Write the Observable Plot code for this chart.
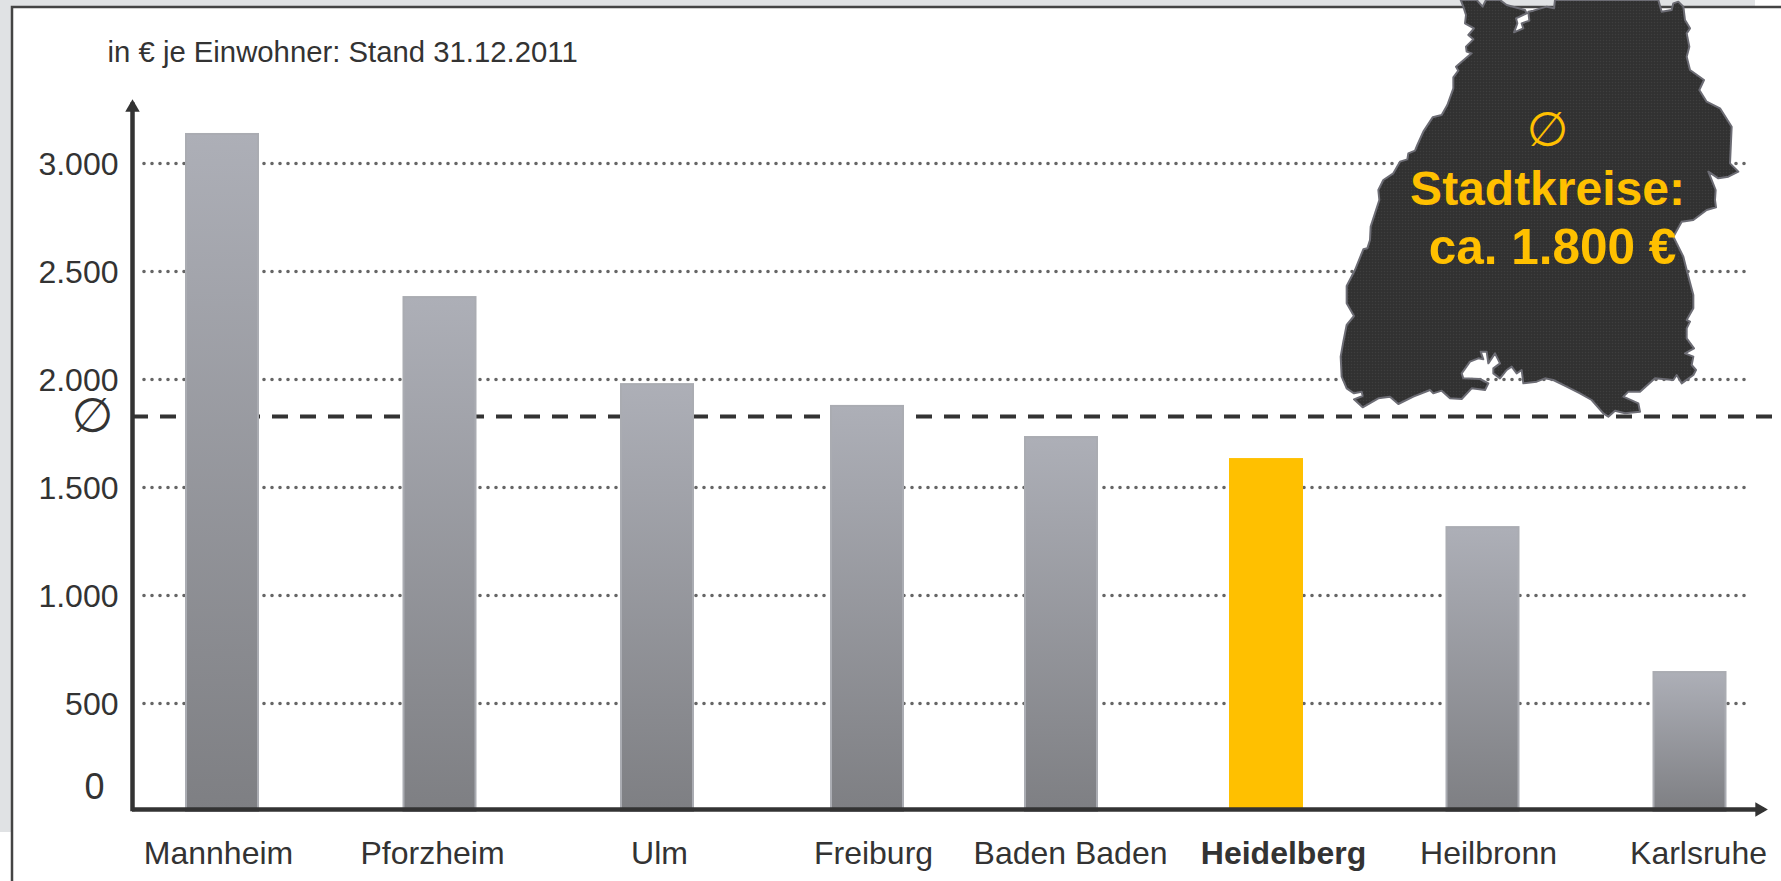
<!DOCTYPE html>
<html lang="de">
<head>
<meta charset="utf-8">
<title>in € je Einwohner</title>
<script src="https://cdn.jsdelivr.net/npm/d3@7"></script>
<script src="https://cdn.jsdelivr.net/npm/@observablehq/plot@0.6"></script>
<style>html,body{margin:0;padding:0;background:#fff;overflow:hidden}svg{display:block}</style>
</head>
<body>
<div id="chart"></div>
<script>
const cities = ["Mannheim","Pforzheim","Ulm","Freiburg","Baden Baden","Heidelberg","Heilbronn","Karlsruhe"];
const values = [3139,2384,1981,1880,1736,1634,1319,648];
const highlight = "Heidelberg";
const meanValue = 1829;
const yTicks = [500,1000,1500,2000,2500,3000];
const subtitle = "in € je Einwohner: Stand 31.12.2011";
const mapLines = ["Stadtkreise:","ca. 1.800 €"];

const barCentres = [222,439.5,657,867,1061,1266,1482.5,1689.5];
const labelCentres = [218,432,659,873,1070,1283,1488,1698];

// Outline of Baden-Württemberg, traced clockwise from the top left
const outlineA = [[392,0],[400,20],[408,45],[405,70],[432,85],[415,105],[430,118],[408,140],[410,155],[425,160],[395,185],[378,200],[385,212],[370,232],[370,265],[352,315],[335,345],[308,352],[280,395],[262,435],[255,452],[235,460],[232,478],[210,485],[190,520],[160,540],[145,570],[148,600]];
const outlineB = [[135,40],[122,80],[120,120],[112,145],[100,148],[75,210],[50,258],[50,310],[72,348],[50,375],[40,425],[32,470],[35,530],[50,565],[72,580],[95,575],[98,588],[72,598],[98,622],[145,595],[180,590],[205,612],[250,590],[300,570],[310,580],[335,572],[360,595],[395,597],[425,565],[465,570],[475,550],[450,537],[400,535],[395,520],[420,485],[445,475],[460,478],[452,455],[470,455],[475,490],[495,460],[510,490],[490,505],[490,520],[510,535],[530,510],[545,500],[560,520],[575,510],[580,550],[620,545]];
const outlineC = [[45,535],[70,540],[110,560],[150,580],[185,600],[220,640],[235,650],[255,632],[285,640],[330,635],[325,610],[280,590],[295,575],[330,575],[375,535],[430,540],[440,525],[455,550],[490,525],[498,510],[485,495],[490,470],[465,460],[492,445],[470,415],[470,385],[480,365],[470,360],[490,325],[490,285],[470,210],[460,170],[430,110],[455,65],[490,60],[530,30],[558,22],[555,0]];
const outlineD = [[557,570],[535,515],[565,535],[595,530],[625,515],[600,490],[605,380],[570,325],[530,305],[508,270],[522,240],[480,210],[470,170],[478,140],[470,100],[480,85],[465,60],[460,20],[445,5],[430,10],[425,30],[395,35],[385,0]];
const outlineE = [[825,0],[822,25],[800,20],[760,32],[745,35],[748,62],[725,70],[730,85],[702,97],[712,70],[708,55],[740,40],[735,30],[680,15],[660,0],[618,0],[608,20],[590,0],[545,0]];

const trace = (pts, ox, oy) => pts.map(([a, b]) => [ox + a / 3, oy + b / 3]);
const mapOutline = [
  ...trace(outlineA, 1330, 0),
  ...trace(outlineB, 1330, 200),
  ...trace(outlineC, 1530, 200),
  ...trace(outlineD, 1530, 0),
  ...trace(outlineE, 1280, 0)
];

const table = cities.map((city, i) => ({city, value: values[i], i}));
const labelSlot = (d) => d.i + 0.5;
const textColor = "#333333";

const backdrop = () => {
  const g = d3.create("svg:g");
  g.append("rect").attr("width", 1755).attr("height", 832).attr("fill", "#e0e2e4");
  g.append("rect").attr("x", 12).attr("y", 7).attr("width", 1769).attr("height", 874).attr("fill", "#fff");
  g.append("path").attr("d", "M12,881V7H1781").attr("fill", "none").attr("stroke", "#444").attr("stroke-width", 2.5);
  const defs = g.append("defs");
  const grad = defs.append("linearGradient").attr("id", "barGrad").attr("x1", 0).attr("x2", 0).attr("y1", 0).attr("y2", 1);
  grad.append("stop").attr("offset", "0%").attr("stop-color", "#adafb7");
  grad.append("stop").attr("offset", "100%").attr("stop-color", "#7e7f83");
  const pat = defs.append("pattern").attr("id", "mapDots").attr("patternUnits", "userSpaceOnUse").attr("width", 3).attr("height", 3);
  pat.append("rect").attr("width", 3).attr("height", 3).attr("fill", "#313131");
  pat.append("circle").attr("cx", 1.5).attr("cy", 1.5).attr("r", 0.7).attr("fill", "#3e3e3e");
  return g.node();
};

const mapShape = () => d3.create("svg:path")
  .attr("d", d3.line().curve(d3.curveLinear)(mapOutline) + "Z")
  .attr("fill", "url(#mapDots)")
  .attr("stroke", "#6c6c74")
  .attr("stroke-width", 2)
  .attr("stroke-linejoin", "round")
  .node();

const xKnots = [-1];
const xRange = [132];
barCentres.forEach((c, i) => { xKnots.push(i, i + 0.5); xRange.push(c, labelCentres[i]); });
xKnots.push(8, 8.5, 9);
xRange.push(1772, 1759, 1764);

const chart = Plot.plot({
  width: 1781,
  height: 881,
  marginLeft: 144,
  marginRight: 33,
  marginTop: 0,
  marginBottom: 0,
  style: {fontFamily: "'Liberation Sans', Arial, sans-serif", background: "transparent", color: textColor},
  x: {type: "linear", domain: xKnots, range: xRange, axis: null},
  y: {domain: [0, 3000], range: [811, 163], axis: null},
  marks: [
    backdrop,
    Plot.ruleY(yTicks, {stroke: "#666", strokeWidth: 3.6, strokeDasharray: "0 8", strokeLinecap: "round", shapeRendering: "auto"}),
    Plot.ruleY([meanValue], {x1: -1, x2: 8, stroke: "#333", strokeWidth: 4, strokeDasharray: "16 12"}),
    mapShape,
    Plot.rect(table, {filter: (d) => d.city !== highlight, x1: "i", x2: "i", y1: 0, y2: "value", insetLeft: -36, insetRight: -36, insetTop: 1, fill: "url(#barGrad)", stroke: "#aaacb2", strokeWidth: 2}),
    Plot.rect(table, {filter: (d) => d.city === highlight, x1: "i", x2: "i", y1: 0, y2: "value", insetLeft: -37, insetRight: -37, fill: "#ffc000"}),
    Plot.ruleX([-1], {y1: -1, y2: 3280, stroke: "#333", strokeWidth: 4.5, shapeRendering: "auto"}),
    Plot.ruleY([9], {x1: -1, x2: 9, stroke: "#333", strokeWidth: 4.5, shapeRendering: "auto"}),
    Plot.dot([0], {x: -1, y: 3259, symbol: "triangle", r: 5.4, fill: "#333", stroke: "none"}),
    Plot.dot([0], {x: 8.5, y: 9, symbol: "triangle", r: 5.4, rotate: 90, fill: "#333", stroke: "none"}),
    Plot.axisY(yTicks, {anchor: "left", tickSize: 0, tickPadding: 26, fontSize: 32, dy: 1, fill: textColor, label: null, tickFormat: (d) => d3.format(",")(d).replace(",", ".")}),
    Plot.text(["0"], {frameAnchor: "left", y: 0, dx: -40, dy: -24, textAnchor: "end", fontSize: 36, fill: textColor, lineAnchor: "middle"}),
    Plot.text(["\u2205"], {frameAnchor: "left", y: meanValue, dx: -52, textAnchor: "middle", fontSize: 48, fill: textColor, fontFamily: "DejaVu Sans", lineAnchor: "middle"}),
    Plot.text(table, {filter: (d) => d.city !== highlight, x: labelSlot, text: "city", frameAnchor: "bottom", dy: -28, lineAnchor: "middle", fontSize: 32, fill: textColor}),
    Plot.text(table, {filter: (d) => d.city === highlight, x: labelSlot, text: "city", frameAnchor: "bottom", dy: -28, lineAnchor: "middle", fontSize: 32, fontWeight: "bold", fill: textColor}),
    Plot.text([subtitle], {frameAnchor: "top-left", dx: -37, dy: 52, textAnchor: "start", lineAnchor: "middle", fontSize: 29.3, fill: textColor}),
    Plot.text(["\u2205"], {frameAnchor: "top-left", dx: 1403, dy: 130, textAnchor: "middle", lineAnchor: "middle", fontSize: 48, fill: "#ffc000", fontFamily: "DejaVu Sans"}),
    Plot.text([mapLines[0]], {frameAnchor: "top-left", dx: 1403, dy: 204, textAnchor: "middle", lineAnchor: "bottom", fontSize: 48, fontWeight: "bold", fill: "#ffc000"}),
    Plot.text([mapLines[1]], {frameAnchor: "top-left", dx: 1408, dy: 263, textAnchor: "middle", lineAnchor: "bottom", fontSize: 49.5, fontWeight: "bold", fill: "#ffc000"})
  ]
});
document.getElementById("chart").append(chart);
</script>
</body>
</html>
